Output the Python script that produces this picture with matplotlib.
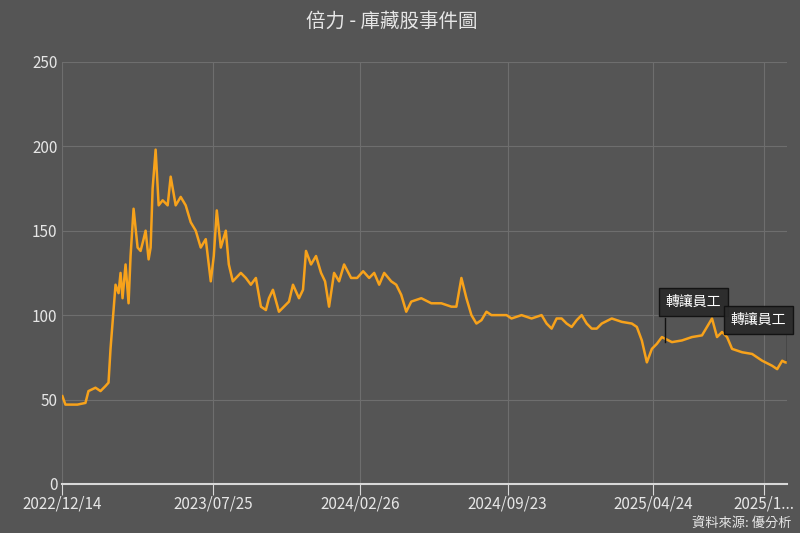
import matplotlib
matplotlib.use("Agg")
import matplotlib.pyplot as plt

plt.rcParams['font.family'] = ['Noto Sans CJK TC', 'DejaVu Sans']

# trading-day index and closing price
day_idx = [0, 3, 8, 15, 23, 26, 33, 38, 43, 46, 48, 53, 56, 58, 60, 63, 66, 68, 71,
           75, 78, 81, 83, 86, 88, 90, 93, 96, 100, 105, 108, 113, 118, 123, 128,
           133, 138, 143, 146, 148, 151, 154, 158, 163, 166, 170, 178, 183, 188,
           193, 198, 203, 206, 210, 216, 221, 226, 230, 236, 240, 243, 248, 253,
           258, 262, 266, 271, 276, 281, 288, 294, 300, 306, 311, 316, 321, 328,
           333, 338, 343, 348, 358, 368, 378, 388, 393, 398, 403, 408, 413, 418,
           423, 428, 438, 443, 448, 458, 468, 478, 483, 488, 493, 498, 503, 508,
           513, 518, 523, 528, 533, 538, 548, 558, 568, 573, 578, 583, 588, 593,
           598, 608, 618, 628, 638, 643, 648, 653, 658, 663, 668, 678, 688, 698,
           708, 713, 718, 721, 723]
price = [52, 47, 47, 47, 48, 55, 57, 55, 58, 60, 80, 118, 113, 125, 110, 130, 107,
         135, 163, 140, 138, 145, 150, 133, 140, 175, 198, 165, 168, 165, 182, 165,
         170, 165, 155, 150, 140, 145, 130, 120, 135, 162, 140, 150, 130, 120, 125,
         122, 118, 122, 105, 103, 110, 115, 102, 105, 108, 118, 110, 115, 138, 130,
         135, 125, 120, 105, 125, 120, 130, 122, 122, 126, 122, 125, 118, 125, 120,
         118, 112, 102, 108, 110, 107, 107, 105, 105, 122, 110, 100, 95, 97, 102,
         100, 100, 100, 98, 100, 98, 100, 95, 92, 98, 98, 95, 93, 97, 100, 95, 92,
         92, 95, 98, 96, 95, 93, 85, 72, 80, 83, 87, 84, 85, 87, 88, 93, 98, 87, 90,
         87, 80, 78, 77, 73, 70, 68, 73, 72, 72]

tick_pos = [0, 150, 297, 444, 589, 700]
tick_labels = ['2022/12/14', '2023/07/25', '2024/02/26', '2024/09/23', '2025/04/24', '2025/1...']

events = [(601, 84, '轉讓員工'), (723, 72, '轉讓員工')]

bg = '#555555'
txt = '#e6e6e6'

fig = plt.figure(figsize=(8, 5.33), dpi=100, facecolor=bg)
ax = fig.add_axes([0.078, 0.092, 0.906, 0.792])
ax.set_facecolor(bg)
ax.plot(day_idx, price, color='#f7a21b', lw=1.8, zorder=3)

ax.set_xlim(0, 723)
ax.set_ylim(0, 250)
ax.set_yticks([0, 50, 100, 150, 200, 250])
ax.set_xticks(tick_pos)
ax.set_xticklabels(tick_labels)
ax.grid(True, color='#6e6e6e', lw=0.8)
for s in ['top', 'right', 'left']:
    ax.spines[s].set_visible(False)
ax.spines['bottom'].set_color('#d8d8d8')
ax.spines['bottom'].set_linewidth(1.5)
ax.tick_params(axis='y', length=0, colors=txt, labelsize=11)
ax.tick_params(axis='x', length=8, color='#d8d8d8', colors=txt, labelsize=11, pad=0)

# event flags
ax.plot([events[0][0]] * 2, [events[0][1], 98], color='#111111', lw=1, zorder=4)
ax.text(events[0][0] + 1, 108, events[0][2], ha='left', va='center', color='white', fontsize=10,
        zorder=5, bbox=dict(boxstyle='square,pad=0.5', fc='#2b2b2b', ec='#111111', alpha=0.95))
ax.plot([events[1][0]] * 2, [events[1][1], 88], color='#111111', lw=1, zorder=4)
ax.text(events[1][0] - 1, 97, events[1][2], ha='right', va='center', color='white', fontsize=10,
        zorder=5, bbox=dict(boxstyle='square,pad=0.5', fc='#2b2b2b', ec='#111111', alpha=0.95))

fig.text(0.49, 0.96, '倍力 - 庫藏股事件圖', ha='center', va='center', color=txt, fontsize=14)
fig.text(0.99, 0.005, '資料來源: 優分析', ha='right', va='bottom', color=txt, fontsize=9.5)

fig.savefig('out.png', dpi=100, facecolor=bg)
